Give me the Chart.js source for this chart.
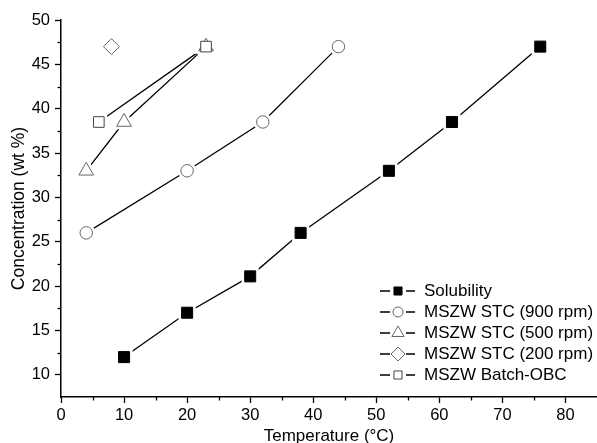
<!DOCTYPE html>
<html><head><meta charset="utf-8">
<script src="https://cdn.jsdelivr.net/npm/chart.js@4.4.0/dist/chart.umd.min.js"></script>
<style>html,body{margin:0;padding:0;background:#fff;overflow:hidden}#wrap{width:597px;height:443px;position:relative}</style>
</head><body><div id="wrap"><canvas id="c"></canvas></div>
<script>
// ---- data ----
const seriesLabels = ['Solubility','MSZW STC (900 rpm)','MSZW STC (500 rpm)','MSZW STC (200 rpm)','MSZW Batch-OBC'];
const solubilityT = [10,20,30,38,52,62,76];
const solubilityC = [12,17,21.1,26,33,38.5,47];
const stc900T = [4,20,32,44];
const stc900C = [26,33,38.5,47];
const stc500T = [4,10,23];
const stc500C = [33,38.5,47];
const stc200T = [8];
const stc200C = [47];
const obcT = [6,23];
const obcC = [38.5,47];
const xTickValues = [0,10,20,30,40,50,60,70,80];
const yTickValues = [10,15,20,25,30,35,40,45,50];
const xMinorValues = [5,15,25,35,45,55,65,75];
const yMinorValues = [12.5,17.5,22.5,27.5,32.5,37.5,42.5,47.5];

// ---- styles ----
const styles = [
  {shape:'rect', r:7.8, fill:'#000', edge:'#000', lr:5.7},
  {shape:'circle', r:6.2, fill:'#fff', edge:'#666', lr:5},
  {shape:'triangle', r:8.5, fill:'#fff', edge:'#666', lr:7},
  {shape:'rectRot', r:8, fill:'#fff', edge:'#666', lr:7},
  {shape:'rect', r:7.5, fill:'#fff', edge:'#444', lr:5.7}
];
const xs = [solubilityT, stc900T, stc500T, stc200T, obcT];
const ys = [solubilityC, stc900C, stc500C, stc200C, obcC];

const FONT = '"Liberation Sans", Arial, Helvetica, sans-serif';
Chart.defaults.font.family = FONT;
Chart.defaults.color = '#000';

const datasets = [];
seriesLabels.forEach((lab, i) => {
  const pts = xs[i].map((x, k) => ({x: x, y: ys[i][k]}));
  const st = styles[i];
  datasets.push({label: lab, data: pts, showLine: pts.length > 1, pointRadius: 0,
    borderColor: '#000', borderWidth: 1.3, order: 40});
  datasets.push({label: lab + ' halo', data: pts, showLine: false, pointStyle: st.shape,
    pointRadius: st.r, pointBorderWidth: 6, pointBorderColor: '#fff', pointBackgroundColor: '#fff', order: 30});
  datasets.push({label: lab + ' marker', data: pts, showLine: false, pointStyle: st.shape,
    pointRadius: st.r, pointBorderWidth: 1, pointBorderColor: st.edge, pointBackgroundColor: st.fill, order: 10 - i});
});

function drawShape(ctx, shape, x, y, r) {
  ctx.beginPath();
  if (shape === 'circle') {
    ctx.arc(x, y, r, 0, Math.PI * 2);
  } else if (shape === 'rect') {
    const s = r * Math.SQRT1_2;
    ctx.rect(x - s, y - s, 2 * s, 2 * s);
  } else if (shape === 'triangle') {
    ctx.moveTo(x, y - r);
    ctx.lineTo(x + r * Math.sin(2 * Math.PI / 3), y - r * Math.cos(2 * Math.PI / 3));
    ctx.lineTo(x + r * Math.sin(4 * Math.PI / 3), y - r * Math.cos(4 * Math.PI / 3));
    ctx.closePath();
  } else if (shape === 'rectRot') {
    ctx.moveTo(x, y - r); ctx.lineTo(x + r, y); ctx.lineTo(x, y + r); ctx.lineTo(x - r, y); ctx.closePath();
  }
}

const extras = {
  id: 'extras',
  afterDraw(chart) {
    const ctx = chart.ctx, ca = chart.chartArea;
    const sx = chart.scales.x, sy = chart.scales.y;
    ctx.save();
    ctx.strokeStyle = '#000'; ctx.lineWidth = 1.3;
    xMinorValues.forEach(v => {
      const p = Math.round(sx.getPixelForValue(v)) + 0.5;
      ctx.beginPath(); ctx.moveTo(p, ca.bottom); ctx.lineTo(p, ca.bottom + 3.5); ctx.stroke();
    });
    yMinorValues.forEach(v => {
      const p = Math.round(sy.getPixelForValue(v)) + 0.5;
      ctx.beginPath(); ctx.moveTo(ca.left, p); ctx.lineTo(ca.left - 3.5, p); ctx.stroke();
    });
    // legend
    const lx = 380, ly0 = 291, step = 21;
    ctx.font = '17px ' + FONT; ctx.textBaseline = 'middle'; ctx.textAlign = 'left';
    seriesLabels.forEach((lab, i) => {
      const y = ly0 + i * step, st = styles[i];
      ctx.strokeStyle = '#000'; ctx.lineWidth = 1.3;
      ctx.beginPath(); ctx.moveTo(lx, y); ctx.lineTo(lx + 10, y); ctx.moveTo(lx + 26, y); ctx.lineTo(lx + 35, y); ctx.stroke();
      drawShape(ctx, st.shape, lx + 18, y, st.lr);
      ctx.fillStyle = st.fill; ctx.fill();
      ctx.strokeStyle = st.edge; ctx.lineWidth = 1; ctx.stroke();
      ctx.fillStyle = '#000';
      ctx.fillText(lab, lx + 44, y);
    });
    ctx.restore();
  }
};

const tickFont = {size: 16.5, family: FONT};
new Chart(document.getElementById('c'), {
  type: 'scatter',
  data: {datasets: datasets},
  plugins: [extras],
  options: {
    responsive: true, maintainAspectRatio: false, animation: false, events: [],
    devicePixelRatio: 1,
    layout: {autoPadding: false, padding: {top: 20, right: 0, left: 0, bottom: 0}},
    plugins: {legend: {display: false}, tooltip: {enabled: false}},
    scales: {
      x: {
        type: 'linear', min: 0, max: 85, position: 'bottom',
        afterBuildTicks: s => { s.ticks = xTickValues.map(v => ({value: v})); },
        afterFit: s => { s.height = 46; s.paddingRight = 0; s.paddingLeft = 0; },
        ticks: {font: tickFont, color: '#000', padding: 3, maxRotation: 0, autoSkip: false},
        grid: {display: true, drawOnChartArea: false, drawTicks: true, tickLength: 6, tickColor: '#000', tickWidth: 1.3, color: '#000'},
        border: {display: true, color: '#000', width: 1.5},
        title: {display: true, text: 'Temperature (°C)', color: '#000', font: {size: 17, family: FONT, lineHeight: 0.8}, padding: {top: 0, bottom: 0}}
      },
      y: {
        type: 'linear', min: 7.5, max: 50, position: 'left',
        afterBuildTicks: s => { s.ticks = yTickValues.map(v => ({value: v})); },
        afterFit: s => { s.width = 61; s.paddingTop = 0; s.paddingBottom = 0; },
        ticks: {font: tickFont, color: '#000', padding: 5, autoSkip: false},
        grid: {display: true, drawOnChartArea: false, drawTicks: true, tickLength: 6, tickColor: '#000', tickWidth: 1.3, color: '#000'},
        border: {display: true, color: '#000', width: 1.5},
        title: {display: true, text: 'Concentration (wt %)', color: '#000', font: {size: 17.5, family: FONT, lineHeight: 1.2}, padding: {top: 9, bottom: 0}}
      }
    }
  }
});
</script>
</body></html>
